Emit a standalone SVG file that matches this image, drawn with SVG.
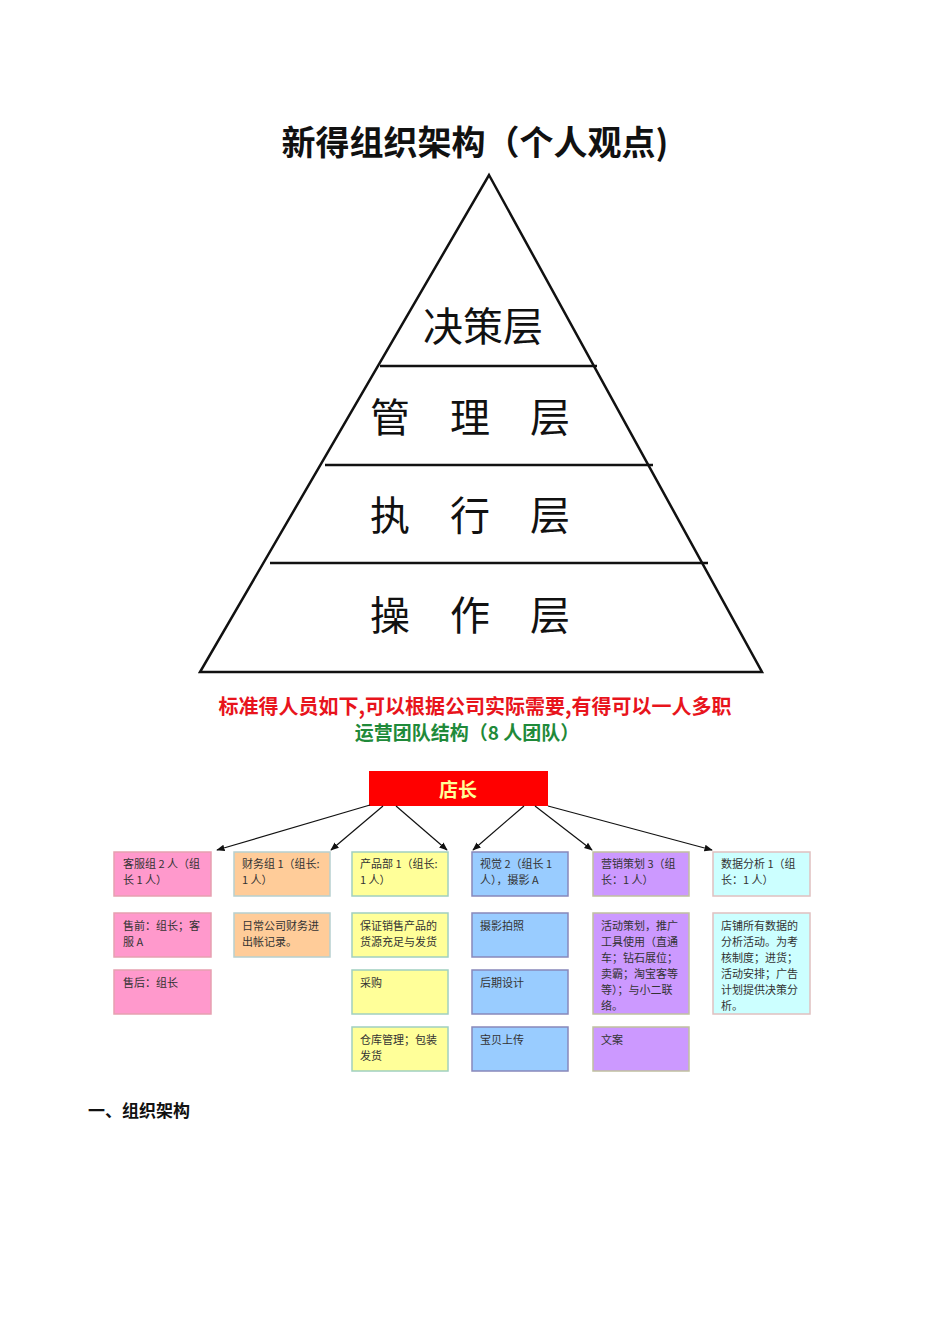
<svg xmlns="http://www.w3.org/2000/svg" width="950" height="1344" viewBox="0 0 950 1344">
<style>
text{font-family:"Noto Sans CJK SC","Noto Sans",sans-serif}
.s{font-size:11px;fill:#333}
.b{stroke-width:1.5}
.pk{fill:#ff99cc;stroke:#e6a0b0}
.or{fill:#ffcc99;stroke:#b7d0d0}
.ye{fill:#ffff99;stroke:#a0d0c0}
.bl{fill:#99ccff;stroke:#8888bb}
.pu{fill:#cc99ff;stroke:#c0c0a0}
.cy{fill:#ccffff;stroke:#e0c0c0}
.lay{font-size:40px;fill:#111}
</style>
<defs><marker id="a" viewBox="0 0 10 10" refX="9" refY="5" markerWidth="7" markerHeight="7" orient="auto"><path d="M0,1L10,5L0,9z" fill="#111"/></marker></defs>
<rect width="950" height="1344" fill="#fff"/>
<text x="475" y="155" text-anchor="middle" font-size="34" font-weight="bold" fill="#111">新得组织架构（个人观点)</text>
<g id="pyramid" fill="none" stroke="#111" stroke-width="2.5">
<path d="M489,175L762,672L200,672Z"/>
<line x1="380" y1="366" x2="597" y2="366"/><line x1="325" y1="465" x2="653" y2="465"/><line x1="270" y1="563" x2="708" y2="563"/>
</g>
<text class="lay" x="483" y="341" text-anchor="middle">决策层</text>
<text class="lay" x="490" y="432" text-anchor="middle" letter-spacing="40">管理层</text>
<text class="lay" x="490" y="530" text-anchor="middle" letter-spacing="40">执行层</text>
<text class="lay" x="490" y="630" text-anchor="middle" letter-spacing="40">操作层</text>
<text x="475" y="714" text-anchor="middle" font-size="20" font-weight="bold" fill="#e8141c">标准得人员如下,可以根据公司实际需要,有得可以一人多职</text>
<text x="467" y="740" text-anchor="middle" font-size="19" font-weight="bold" fill="#1f8a3a">运营团队结构（8 人团队）</text>
<g id="root"><rect x="369" y="771" width="179" height="35" fill="#ff0000"/><text x="458" y="797" text-anchor="middle" font-size="19" font-weight="bold" fill="#ffff99">店长</text></g>
<g id="connectors" stroke="#111" stroke-width="1.2" marker-end="url(#a)">
<line x1="370" y1="805" x2="217" y2="850"/><line x1="383" y1="806" x2="331" y2="850"/><line x1="396" y1="806" x2="447" y2="850"/>
<line x1="524" y1="806" x2="473" y2="850"/><line x1="535" y1="806" x2="592" y2="850"/><line x1="548" y1="806" x2="712" y2="850"/>
</g>
<g id="c1" class="b">
<rect class="pk" x="114" y="852" width="97" height="44"/><text class="s" x="123" y="868">客服组 2 人（组</text><text class="s" x="123" y="884">长 1 人）</text>
<rect class="pk" x="114" y="913" width="97" height="44"/><text class="s" x="123" y="930">售前：组长；客</text><text class="s" x="123" y="946">服 A</text>
<rect class="pk" x="114" y="970" width="97" height="44"/><text class="s" x="123" y="987">售后：组长</text>
</g>
<g id="c2" class="b">
<rect class="or" x="234" y="852" width="96" height="44"/><text class="s" x="242" y="868">财务组 1（组长:</text><text class="s" x="242" y="884">1 人）</text>
<rect class="or" x="234" y="913" width="96" height="44"/><text class="s" x="242" y="930">日常公司财务进</text><text class="s" x="242" y="946">出帐记录。</text>
</g>
<g id="c3" class="b">
<rect class="ye" x="352" y="852" width="96" height="44"/><text class="s" x="360" y="868">产品部 1（组长:</text><text class="s" x="360" y="884">1 人）</text>
<rect class="ye" x="352" y="913" width="96" height="44"/><text class="s" x="360" y="930">保证销售产品的</text><text class="s" x="360" y="946">货源充足与发货</text>
<rect class="ye" x="352" y="970" width="96" height="44"/><text class="s" x="360" y="987">采购</text>
<rect class="ye" x="352" y="1027" width="96" height="44"/><text class="s" x="360" y="1044">仓库管理；包装</text><text class="s" x="360" y="1060">发货</text>
</g>
<g id="c4" class="b">
<rect class="bl" x="472" y="852" width="96" height="44"/><text class="s" x="480" y="868">视觉 2（组长 1</text><text class="s" x="480" y="884">人），摄影 A</text>
<rect class="bl" x="472" y="913" width="96" height="44"/><text class="s" x="480" y="930">摄影拍照</text>
<rect class="bl" x="472" y="970" width="96" height="44"/><text class="s" x="480" y="987">后期设计</text>
<rect class="bl" x="472" y="1027" width="96" height="44"/><text class="s" x="480" y="1044">宝贝上传</text>
</g>
<g id="c5" class="b">
<rect class="pu" x="593" y="852" width="96" height="44"/><text class="s" x="601" y="868">营销策划 3（组</text><text class="s" x="601" y="884">长：1 人）</text>
<rect class="pu" x="593" y="913" width="96" height="101"/><text class="s" x="601" y="930">活动策划，推广</text><text class="s" x="601" y="946">工具使用（直通</text><text class="s" x="601" y="962">车；钻石展位；</text><text class="s" x="601" y="978">卖霸；淘宝客等</text><text class="s" x="601" y="994">等）；与小二联</text><text class="s" x="601" y="1010">络。</text>
<rect class="pu" x="593" y="1027" width="96" height="44"/><text class="s" x="601" y="1044">文案</text>
</g>
<g id="c6" class="b">
<rect class="cy" x="713" y="852" width="97" height="44"/><text class="s" x="721" y="868">数据分析 1（组</text><text class="s" x="721" y="884">长：1 人）</text>
<rect class="cy" x="713" y="913" width="97" height="101"/><text class="s" x="721" y="930">店铺所有数据的</text><text class="s" x="721" y="946">分析活动。为考</text><text class="s" x="721" y="962">核制度；进货；</text><text class="s" x="721" y="978">活动安排；广告</text><text class="s" x="721" y="994">计划提供决策分</text><text class="s" x="721" y="1010">析。</text>
</g>
<text x="88" y="1117" font-size="17" font-weight="bold" fill="#111">一、组织架构</text>
</svg>
